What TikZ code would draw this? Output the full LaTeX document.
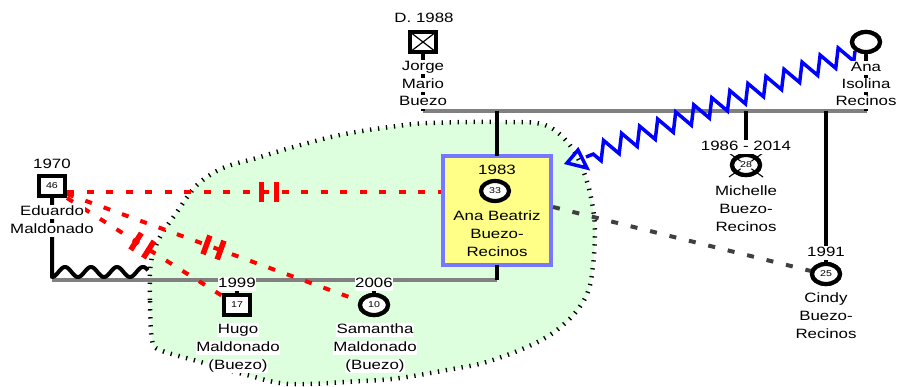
\documentclass[tikz,border=0pt]{standalone}
\usepackage{fontspec}
\setmainfont{Liberation Sans}[FakeStretch=1.25]
\usetikzlibrary{shapes.geometric,decorations.pathmorphing,decorations.markings,arrows.meta}

\definecolor{grn}{RGB}{221,255,221}
\definecolor{ylw}{RGB}{255,255,136}
\definecolor{bord}{RGB}{119,119,255}
\definecolor{hostile}{RGB}{255,0,0}
\definecolor{dgray}{RGB}{64,64,64}
\definecolor{lgray}{RGB}{128,128,128}
\definecolor{zblue}{RGB}{0,0,255}

\newcommand\labfont{\fontsize{13.5}{16}\selectfont}
\newcommand\numfont{\fontsize{8.5}{10}\selectfont}

\tikzset{
  lbl/.style={fill=white, inner sep=0.6pt, font=\labfont, text height=10pt, text depth=3pt},
  blbl/.style={inner sep=0.6pt, font=\labfont, text height=10pt, text depth=3pt},
  male/.style={rectangle, draw, fill=white, line width=4.2pt, minimum width=26pt, minimum height=20pt, inner sep=0pt, outer sep=0pt, font=\numfont},
  female/.style={ellipse, draw, fill=white, line width=4.2pt, minimum width=28pt, minimum height=20pt, inner sep=0pt, outer sep=0pt, font=\numfont},
  kin/.style={line width=4pt, black},
  union/.style={line width=3.5pt, lgray},
  conflict/.style={hostile, line width=4pt, dash pattern=on 7pt off 12.5pt},
  distant/.style={dgray, line width=4pt, dash pattern=on 7pt off 13pt},
  cutmark/.style={postaction={decorate, decoration={markings, mark=at position #1 with {\draw[hostile, solid, line width=5.5pt] (-7.5pt,-10pt) -- (-7.5pt,10pt) (7.5pt,-10pt) -- (7.5pt,10pt);}}}},
  zone/.style={fill=grn, draw=black, line width=4.5pt, dash pattern=on 1.3pt off 6.7pt},
  abuse/.style={zblue, line width=3.5pt, line join=miter},
}

\begin{document}
\begin{tikzpicture}[x=1pt,y=-1pt]
\useasboundingbox (0,0) rectangle (897,387);

% emotional zone
\draw[zone] plot[smooth cycle, tension=0.55] coordinates {
 (152,340) (150,300) (151,262) (160,237) (177,212) (197,185) (223,168)
 (257,158) (290,148) (340,135) (390,127) (430,123) (500,122) (545,125)
 (572,148) (588,185) (595,230) (590,285) (575,313) (550,335) (520,350)
 (483,363) (447,370) (400,378) (363,381) (290,384) (247,375) (197,361) (160,350)};

% persons
\node[male] (jorge) at (423,42) {};
\node[female] (isolina) at (866,42) {};
\node[draw=bord, fill=ylw, line width=4pt, minimum width=108pt, minimum height=109pt, inner sep=0pt, outer sep=0pt] (box) at (496.5,210.5) {};
\node[female] (mich) at (746,165) {};
\node[female] (cindy) at (826,274) {25};
\node[male] (edu) at (52,186) {46};
\node[male] (hugo) at (237,305) {17};
\node[female] (sam) at (374,305) {10};

% union lines
\coordinate (jl) at (423,111);
\coordinate (il) at (867,111);
\coordinate (el) at (52,280);
\coordinate (bl) at (496.5,280);
\coordinate (wave0) at (52,277);
\draw[union] (jl) -- (il);
\draw[union] (el) -- (bl);

% descent lines
\draw[kin] (jorge) -- (jl);
\draw[kin] (isolina) -- (isolina |- il);
\draw[kin] (box.north |- jl) -- (box);
\draw[kin] (mich |- jl) -- (mich);
\draw[kin] (cindy |- jl) -- (cindy);
\draw[kin] (box) -- (bl);
\draw[kin] (hugo |- el) -- (hugo);
\draw[kin] (sam |- el) -- (sam);
\draw[kin, line join=round] (edu) -- (wave0) -- plot[domain=0:96, samples=90] ({52+\x},{272+5*cos(\x*13.846)});

% conflict lines
\coordinate (e1) at (67,192);
\coordinate (e2) at (67,194);
\coordinate (e3) at (67,198);
\coordinate (b1) at (441,192);
\coordinate (s1) at (360,301);
\coordinate (h1) at (224,297);
\draw[conflict, cutmark=0.54] (e1) -- (b1);
\draw[conflict, cutmark=0.50] (e2) -- (s1);
\draw[conflict, cutmark=0.48] (e3) -- (h1);

% distant line
\coordinate (b2) at (553,207);
\coordinate (c1) at (811,271);
\draw[distant] (b2) -- (c1);

% abuse zigzag with open triangle head
\coordinate (zs) at (855,51);
\coordinate (ze) at (586,157);
\coordinate (zt) at (567,163);
\coordinate (zb1) at (578,150);
\coordinate (zb2) at (587,168);
\draw[abuse, decorate, decoration={zigzag, segment length=19.4pt, amplitude=9pt}] (zs) -- (ze);
\draw[abuse] (zt) -- (zb1) -- (zb2) -- cycle;

% redraw person symbols on top
\node[male] (jorge) at (423,42) {};
\draw[line width=1.2pt] (jorge.north west) -- (jorge.south east) (jorge.north east) -- (jorge.south west);
\node[female] (isolina) at (866,42) {};
\node[female] (ab) at (495,191) {33};
\node[female] (mich) at (746,165) {};
\draw[line width=1.1pt] ([shift={(-17,-12)}]mich.center) -- ([shift={(17,12)}]mich.center)
                        ([shift={(17,-12)}]mich.center) -- ([shift={(-17,12)}]mich.center);
\node[fill=white, ellipse, inner sep=0.3pt, font=\numfont] at (mich) {28};
\node[female] at (cindy) {25};
\node[male] at (edu) {46};
\node[male] at (hugo) {17};
\node[female] at (sam) {10};

% labels
\node[lbl] (jy) at (424,19) {D. 1988};
\node[lbl] (jn1) at (423,67) {Jorge};
\node[lbl] (jn2) at (423,85) {Mario};
\node[lbl] (jn3) at (423,102) {Buezo};

\node[lbl] (in1) at (866,68) {Ana};
\node[lbl] (in2) at (866,85) {Isolina};
\node[lbl] (in3) at (866,102) {Recinos};

\node[lbl] (my) at (746,147) {1986 - 2014};
\node[lbl] (mn1) at (746,192) {Michelle};
\node[lbl] (mn2) at (746,210) {Buezo-};
\node[lbl] (mn3) at (746,228) {Recinos};

\node[lbl] (cy) at (826,253) {1991};
\node[lbl] (cn1) at (826,299) {Cindy};
\node[lbl] (cn2) at (826,317) {Buezo-};
\node[lbl] (cn3) at (826,335) {Recinos};

\node[blbl] (aby) at (497,171) {1983};
\node[blbl] (abn1) at (497,217) {Ana Beatriz};
\node[blbl] (abn2) at (497,235) {Buezo-};
\node[blbl] (abn3) at (497,253) {Recinos};

\node[lbl] (ey) at (52,165) {1970};
\node[lbl] (en1) at (52,212) {Eduardo};
\node[lbl] (en2) at (52,230) {Maldonado};

\node[lbl] (hy) at (237,284) {1999};
\node[lbl] (hn1) at (238,330) {Hugo};
\node[lbl] (hn2) at (238,348) {Maldonado};
\node[lbl] (hn3) at (238,366) {(Buezo)};

\node[lbl] (sy) at (374,284) {2006};
\node[lbl] (sn1) at (375,330) {Samantha};
\node[lbl] (sn2) at (375,348) {Maldonado};
\node[lbl] (sn3) at (375,366) {(Buezo)};
\end{tikzpicture}
\end{document}
